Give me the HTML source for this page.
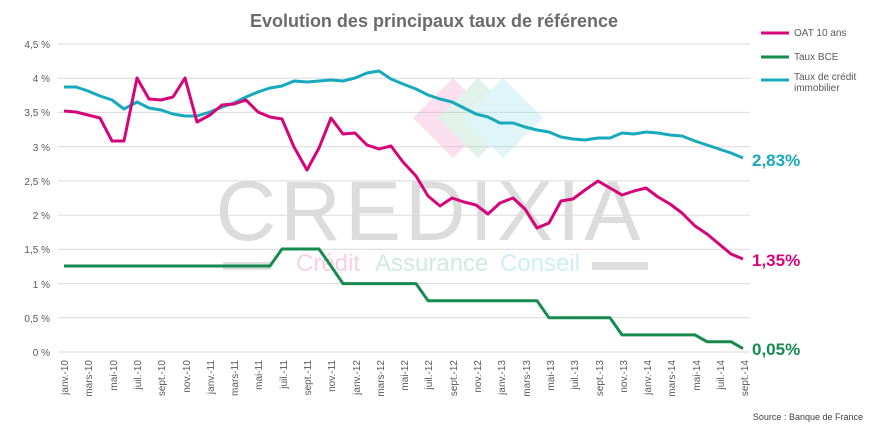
<!DOCTYPE html>
<html><head><meta charset="utf-8"><style>
html,body{margin:0;padding:0;background:#fff;}
svg{display:block;font-family:"Liberation Sans",sans-serif;}
</style></head><body>
<svg width="869" height="426" viewBox="0 0 869 426" xmlns="http://www.w3.org/2000/svg">
<text x="434" y="27" text-anchor="middle" font-size="18" font-weight="bold" fill="#6b6b6b">Evolution des principaux taux de référence</text>
<g stroke="#d9d9d9" stroke-width="1">
<line x1="58" x2="750" y1="44" y2="44"/><line x1="58" x2="750" y1="78.2" y2="78.2"/><line x1="58" x2="750" y1="112.4" y2="112.4"/><line x1="58" x2="750" y1="146.7" y2="146.7"/><line x1="58" x2="750" y1="180.9" y2="180.9"/><line x1="58" x2="750" y1="215.1" y2="215.1"/><line x1="58" x2="750" y1="249.3" y2="249.3"/><line x1="58" x2="750" y1="283.6" y2="283.6"/><line x1="58" x2="750" y1="317.8" y2="317.8"/><line x1="58" x2="750" y1="352" y2="352"/>
</g>
<g font-size="10" fill="#595959" text-anchor="end">
<text x="50" y="48">4,5 %</text><text x="50" y="82">4 %</text><text x="50" y="116">3,5 %</text><text x="50" y="151">3 %</text><text x="50" y="185">2,5 %</text><text x="50" y="219">2 %</text><text x="50" y="253">1,5 %</text><text x="50" y="288">1 %</text><text x="50" y="322">0,5 %</text><text x="50" y="356">0 %</text>
</g>
<!-- watermark -->
<g opacity="0.35">
<polygon points="453,78 493,118 453,158 413,118" fill="#f3a6cf"/>
<polygon points="478,78 518,118 478,158 438,118" fill="#a9dcc6"/>
<polygon points="503,78 543,118 503,158 463,118" fill="#a6e3ea"/>
</g>
<text x="430" y="240" text-anchor="middle" font-size="84" fill="#dcdcdc" letter-spacing="4">CREDIXIA</text>
<rect x="223" y="262" width="48" height="8" fill="#dedede"/>
<rect x="592" y="262" width="56" height="8" fill="#dedede"/>
<text x="296" y="271" font-size="24" fill="#f8cfe3">Crédit</text>
<text x="375" y="271" font-size="24" fill="#cfeadf">Assurance</text>
<text x="500" y="271" font-size="24" fill="#cdeff3">Conseil</text>
<g fill="none" stroke-width="3" stroke-linejoin="round">
<polyline stroke="#17a9bd" points="64,87 76,87 88,91 100,96 112,100 124,109 137,102 149,108 161,110 173,114 185,116 197,116 210,112 222,107 234,103 246,97 258,92 270,88 282,86 294,81 307,82 319,81 331,80 343,81 355,78 367,73 379,71 391,79 403,84 416,89 428,95 440,99 452,102 464,108 476,114 488,117 500,123 513,123 525,127 537,130 549,132 561,137 573,139 585,140 598,138 610,138 622,133 634,134 646,132 658,133 670,135 682,136 695,141 707,145 719,149 731,153 743,158"/>
<polyline stroke="#d6047a" points="64,111 76,112 88,115 100,118 112,141 124,141 137,78 149,99 161,100 173,97 185,78 197,122 210,115 222,105 234,104 246,100 258,112 270,117 282,119 294,147 307,170 319,148 331,118 343,134 355,133 367,145 379,149 391,146 403,162 416,176 428,196 440,206 452,198 464,202 476,205 488,214 500,203 513,198 525,209 537,228 549,223 561,201 573,199 585,190 598,181 610,188 622,195 634,191 646,188 658,197 670,204 682,213 695,226 707,234 719,244 731,254 743,259"/>
<polyline stroke="#168a4f" points="64,266 270,266 282,249 319,249 331,266 343,283.6 416,283.6 428,300.7 537,300.7 549,317.8 610,317.8 622,334.9 695,334.9 707,341.7 731,341.7 743,348.6"/>
</g>
<g font-size="10" fill="#595959" text-anchor="end">
<text transform="translate(68,360) rotate(-90)">janv.-10</text>
<text transform="translate(92,360) rotate(-90)">mars-10</text>
<text transform="translate(117,360) rotate(-90)">mai-10</text>
<text transform="translate(141,360) rotate(-90)">juil.-10</text>
<text transform="translate(165,360) rotate(-90)">sept.-10</text>
<text transform="translate(190,360) rotate(-90)">nov.-10</text>
<text transform="translate(214,360) rotate(-90)">janv.-11</text>
<text transform="translate(238,360) rotate(-90)">mars-11</text>
<text transform="translate(262,360) rotate(-90)">mai-11</text>
<text transform="translate(287,360) rotate(-90)">juil.-11</text>
<text transform="translate(311,360) rotate(-90)">sept.-11</text>
<text transform="translate(335,360) rotate(-90)">nov.-11</text>
<text transform="translate(360,360) rotate(-90)">janv.-12</text>
<text transform="translate(384,360) rotate(-90)">mars-12</text>
<text transform="translate(408,360) rotate(-90)">mai-12</text>
<text transform="translate(432,360) rotate(-90)">juil.-12</text>
<text transform="translate(457,360) rotate(-90)">sept.-12</text>
<text transform="translate(481,360) rotate(-90)">nov.-12</text>
<text transform="translate(505,360) rotate(-90)">janv.-13</text>
<text transform="translate(530,360) rotate(-90)">mars-13</text>
<text transform="translate(554,360) rotate(-90)">mai-13</text>
<text transform="translate(578,360) rotate(-90)">juil.-13</text>
<text transform="translate(603,360) rotate(-90)">sept.-13</text>
<text transform="translate(627,360) rotate(-90)">nov.-13</text>
<text transform="translate(651,360) rotate(-90)">janv.-14</text>
<text transform="translate(675,360) rotate(-90)">mars-14</text>
<text transform="translate(700,360) rotate(-90)">mai-14</text>
<text transform="translate(724,360) rotate(-90)">juil.-14</text>
<text transform="translate(748,360) rotate(-90)">sept.-14</text>
</g>
<g font-size="17" font-weight="bold">
<text x="752" y="166" fill="#17a9bd">2,83%</text>
<text x="752" y="266" fill="#d6047a">1,35%</text>
<text x="752" y="355" fill="#168a4f">0,05%</text>
</g>
<g font-size="10" fill="#595959">
<line x1="761" x2="789" y1="33" y2="33" stroke="#d6047a" stroke-width="3"/><text x="794" y="36">OAT 10 ans</text>
<line x1="761" x2="789" y1="57" y2="57" stroke="#168a4f" stroke-width="3"/><text x="794" y="60">Taux BCE</text>
<line x1="761" x2="789" y1="80" y2="80" stroke="#17a9bd" stroke-width="3"/><text x="794" y="80">Taux de crédit</text><text x="794" y="91">immobilier</text>
</g>
<text x="863" y="420" text-anchor="end" font-size="9" fill="#404040">Source : Banque de France</text>
</svg>
</body></html>
